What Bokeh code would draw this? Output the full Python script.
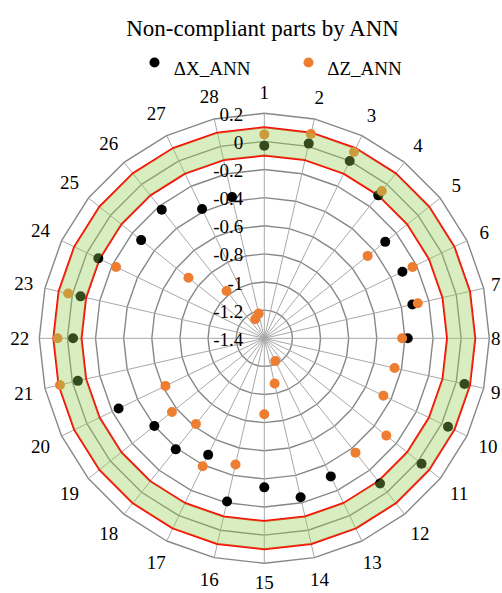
import numpy as np
from bokeh.plotting import figure
from bokeh.models import Range1d, GlobalInlineStyleSheet
from bokeh.core.properties import value
from bokeh.embed import file_html
from bokeh.resources import INLINE

# ---------------- data ----------------
categories = [str(i) for i in range(1, 29)]
dx_ann = [-0.03, 0.02, 0.00, -0.10, -0.30, -0.31, -0.32, -0.38, 0.06, 0.05,
          0.03, -0.08, -0.31, -0.24, -0.34, -0.21, -0.48, -0.39, -0.40, -0.25,
          -0.04, -0.04, -0.06, -0.09, -0.28, -0.23, -0.38, -0.37]
dz_ann = [0.05, 0.09, 0.07, -0.06, -0.46, -0.23, -0.28, -0.42, -0.45, -0.46,
          -0.29, -0.36, -1.22, -1.07, -0.86, -0.48, -0.39, -0.62, -0.56, -0.62,
          0.09, 0.07, 0.03, -0.23, -0.71, -0.97, -1.25, -1.22]
upper_tol = [0.1] * 28
lower_tol = [-0.1] * 28
radial_ticks = [-1.4, -1.2, -1.0, -0.8, -0.6, -0.4, -0.2, 0.0, 0.2]
radial_labels = ["-1.4", "-1.2", "-1", "-0.8", "-0.6", "-0.4", "-0.2", "0", "0.2"]
series_names = ["\u0394X_ANN", "\u0394Z_ANN"]
series_colors = ["#000000", "#ED7D31"]
title_text = "Non-compliant parts by ANN"

# ---------------- layout ----------------
W, H = 502, 593
MARGIN = 0
CXP, CYP = 263.8, 337.8          # page pixel of polar centre
R_PX = 225.0                     # pixel radius of outer ring
RMIN, RMAX = radial_ticks[0], radial_ticks[-1]
S = R_PX / (RMAX - RMIN)         # px per data unit
FONT = value("Liberation Serif")

fx0 = CXP - MARGIN
fy0 = CYP - MARGIN
p = figure(width=W, height=H, output_backend="svg", toolbar_location=None,
           x_range=Range1d(-fx0 / S, (W - fx0) / S),
           y_range=Range1d(-(H - fy0) / S, fy0 / S),
           min_border=0, border_fill_color="white", background_fill_color="white")
p.xaxis.visible = False
p.yaxis.visible = False
p.xgrid.visible = False
p.ygrid.visible = False
p.outline_line_color = None
p.stylesheets = [GlobalInlineStyleSheet(
    css="html, body { overflow: hidden; margin: 0 !important; padding: 0 !important; }")]


def page_to_data(xp, yp):
    return (xp - CXP) / S, (CYP - yp) / S


n = len(categories)
theta = np.pi / 2 - 2 * np.pi * np.arange(n) / n


def polar(vals):
    r = np.asarray(vals, dtype=float) - RMIN
    return r * np.cos(theta), r * np.sin(theta)


def closed(a):
    return list(a) + [a[0]]


# rings
ring_xs, ring_ys = [], []
for t in radial_ticks[1:]:
    x, y = polar([t] * n)
    ring_xs.append(closed(x))
    ring_ys.append(closed(y))
p.multi_line(ring_xs, ring_ys, line_color="#878787", line_width=1.4)

# spokes
ex, ey = polar([RMAX] * n)
p.segment(x0=[0] * n, y0=[0] * n, x1=ex, y1=ey, line_color="#a8a8a8", line_width=1)

# tolerance lines
for vals in (upper_tol, lower_tol):
    x, y = polar(vals)
    p.line(closed(x), closed(y), line_color="#FF0000", line_width=2)

# series markers
for vals, col in zip((dx_ann, dz_ann), series_colors):
    x, y = polar(vals)
    p.scatter(x, y, size=10, fill_color=col, line_color=col, line_width=0)

# green tolerance band (drawn on top, translucent)
ux, uy = polar(upper_tol)
lx, ly = polar(lower_tol)
p.multi_polygons(xs=[[[list(ux), list(lx)]]], ys=[[[list(uy), list(ly)]]],
                 fill_color="#92D050", fill_alpha=0.36, line_color=None)

# radial axis labels
rl_x = [-21 / S] * len(radial_ticks)
rl_y = [t - RMIN - 1.0 / S for t in radial_ticks]
p.text(rl_x, rl_y, text=radial_labels, text_align="right", text_baseline="middle",
       text_font=FONT, text_font_size="19px", text_color="#000000")

# category labels (kept inside the canvas)
FS = 19
lab_x, lab_y = [], []
for k, lab in enumerate(categories):
    c, s = np.cos(theta[k]), np.sin(theta[k])
    w = len(lab) * 0.5 * FS
    h = 22
    d = R_PX + 10 + abs(c) * w / 2 + abs(s) * h / 2
    xp = CXP + d * c
    yp = CYP - d * s
    xp = min(max(xp, w / 2 + 2), W - w / 2 - 2)
    yp = min(max(yp, h / 2), H - h / 2)
    a, b = page_to_data(xp, yp)
    lab_x.append(a)
    lab_y.append(b)
p.text(lab_x, lab_y, text=categories, text_align="center", text_baseline="middle",
       text_font=FONT, text_font_size="19px", text_color="#000000")

# title
tx, ty = page_to_data(262.7, 28.3)
p.text([tx], [ty], text=[title_text], text_align="center", text_baseline="alphabetic",
       text_font=FONT, text_font_size="23px", text_color="#000000")

# legend
leg_marker_px = [(154.0, 62.0), (308.0, 62.0)]
leg_text_px = [(173.3, 68.3), (326.7, 68.3)]
for (mx, my), (txp, typ), name, col in zip(leg_marker_px, leg_text_px, series_names, series_colors):
    a, b = page_to_data(mx, my)
    p.scatter([a], [b], size=10, fill_color=col, line_color=col, line_width=0)
    a, b = page_to_data(txp, typ)
    p.text([a], [b], text=[name], text_align="left", text_baseline="alphabetic",
           text_font=FONT, text_font_size="19px", text_color="#000000")

open("out.html", "w").write(file_html(p, INLINE))
